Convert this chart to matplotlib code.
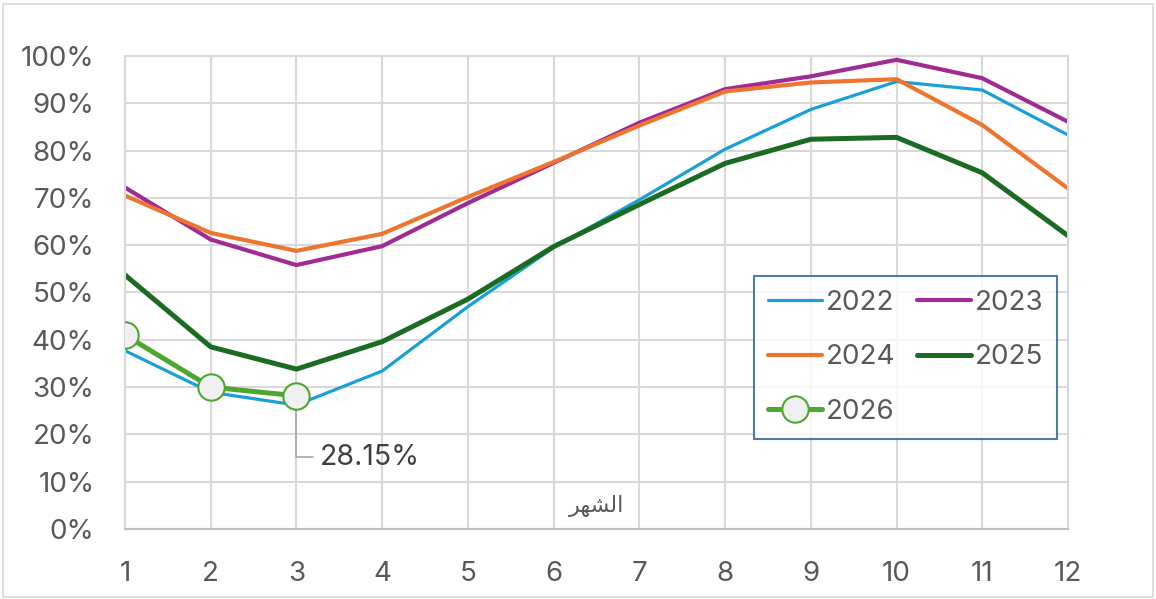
import matplotlib
matplotlib.use("Agg")
import matplotlib.pyplot as plt
from matplotlib.patches import Rectangle

plt.rcParams['font.family'] = ['Inter', 'DejaVu Sans']

# قيم الرسم (مقروءة من الصورة)
months = [1, 2, 3, 4, 5, 6, 7, 8, 9, 10, 11, 12]
y2022 = [37.7, 28.9, 26.2, 33.4, 47.0, 59.5, 69.6, 80.3, 88.7, 94.6, 92.8, 83.3]
y2023 = [72.2, 61.2, 55.8, 59.8, 68.9, 77.4, 85.9, 93.0, 95.7, 99.2, 95.3, 86.1]
y2024 = [70.5, 62.6, 58.8, 62.4, 70.2, 77.6, 85.3, 92.5, 94.4, 95.1, 85.4, 72.0]
y2025 = [53.7, 38.5, 33.8, 39.6, 48.6, 59.7, 68.6, 77.3, 82.4, 82.8, 75.3, 62.0]
y2026 = [41.0, 30.0, 28.15]
months_2026 = months[:3]
yticks = [0, 10, 20, 30, 40, 50, 60, 70, 80, 90, 100]

# "الشهر" written as Arabic presentation forms in visual order (matplotlib does no shaping)
xlabel_text = "\uFEAE\uFEEC\uFEB8\uFEDF\uFE8D"

grey_txt = '#595959'
grid_col = '#D9D9D9'

fig = plt.figure(figsize=(11.56, 5.99), dpi=100)
ax = fig.add_axes([0.1081, 0.1169, 0.8158, 0.7896])

l22, = ax.plot(months, y2022, color='#1AA0D8', lw=2.3, label='2022', solid_capstyle='round')
l23, = ax.plot(months, y2023, color='#A02B93', lw=3.0, label='2023', solid_capstyle='round')
l24, = ax.plot(months, y2024, color='#ED7530', lw=3.0, label='2024', solid_capstyle='round')
l25, = ax.plot(months, y2025, color='#1C6B22', lw=3.6, label='2025', solid_capstyle='round')
l26, = ax.plot(months_2026, y2026, color='#4EA72E', lw=3.6, marker='o', markersize=19,
               markerfacecolor='#F0F0F0', markeredgecolor='#4EA72E', markeredgewidth=1.5,
               label='2026', solid_capstyle='round', zorder=5)

# data label of the last 2026 point
ax.annotate(f"{y2026[-1]:.2f}%", xy=(months_2026[-1], y2026[-1] - 1.7),
            xytext=(3.27, 15.2), ha='left', va='center', fontsize=20.5, color='#404040',
            arrowprops=dict(arrowstyle='-', color='#A6A6A6', lw=1.2,
                            connectionstyle='angle,angleA=0,angleB=90,rad=0',
                            shrinkA=3, shrinkB=0))

ax.set_xlim(1, 12)
ax.set_ylim(0, 100)
ax.set_xticks(months)
ax.set_yticks(yticks)
ax.set_yticklabels([f"{v}%" for v in yticks])
ax.tick_params(axis='both', length=0, labelsize=20, labelcolor=grey_txt)
ax.tick_params(axis='y', pad=22)
ax.tick_params(axis='x', pad=23)
ax.grid(True, color=grid_col, lw=1.5)
ax.set_axisbelow(True)
for side in ['left', 'right', 'top']:
    ax.spines[side].set_color(grid_col)
    ax.spines[side].set_linewidth(1.5)
ax.spines['bottom'].set_color('#BFBFBF')
ax.spines['bottom'].set_linewidth(1.5)

ax.text(0.5, 0.025, xlabel_text, transform=ax.transAxes, ha='center', va='bottom',
        fontsize=16, color=grey_txt, family='DejaVu Sans')

leg = ax.legend(handles=[l22, l24, l26, l23, l25], ncol=2, loc='upper left',
                bbox_to_anchor=(0.667, 0.535), fontsize=20, frameon=True, fancybox=False,
                handlelength=1.95, handletextpad=0.15, columnspacing=0.75, labelspacing=1.03,
                borderpad=0.5, borderaxespad=0)
leg.get_frame().set_edgecolor('#1F5F8B')
leg.get_frame().set_linewidth(1.5)
for t in leg.get_texts():
    t.set_color(grey_txt)

fig.patches.append(Rectangle((0.003, 0.003), 0.994, 0.990, transform=fig.transFigure,
                             fill=False, edgecolor='#D9D9D9', lw=1.2))

fig.savefig('out.png', dpi=100)
